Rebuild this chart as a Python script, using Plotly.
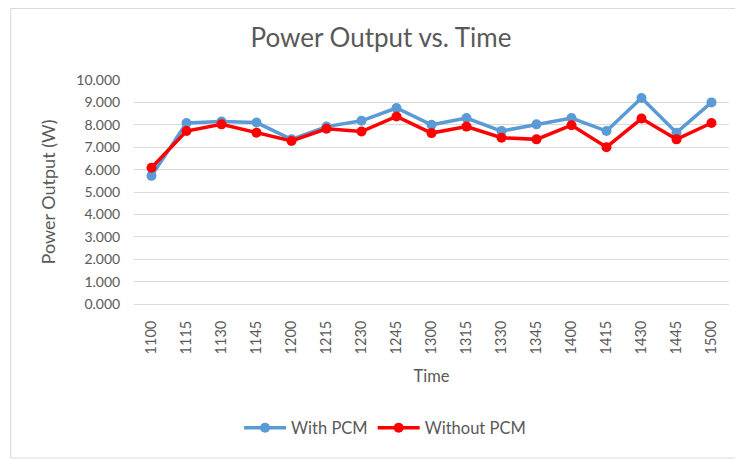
import plotly.graph_objects as go

times = ["1100", "1115", "1130", "1145", "1200", "1215", "1230", "1245", "1300",
         "1315", "1330", "1345", "1400", "1415", "1430", "1445", "1500"]
with_pcm = [5.72, 8.08, 8.15, 8.10, 7.35, 7.92, 8.18, 8.75, 8.00,
            8.30, 7.72, 8.02, 8.30, 7.72, 9.20, 7.65, 9.00]
without_pcm = [6.08, 7.72, 8.02, 7.65, 7.28, 7.82, 7.70, 8.37, 7.63,
               7.92, 7.42, 7.35, 7.98, 7.00, 8.28, 7.35, 8.08]
y_ticks = [0, 1, 2, 3, 4, 5, 6, 7, 8, 9, 10]

FONT = "Lato, Open Sans, sans-serif"
GREY = "#595959"

W, H = 735, 452
L, T, R, B = 125.5, 72, 13.5, 156
PW, PH = W - L - R, H - T - B

fig = go.Figure()
fig.add_trace(go.Scatter(x=times, y=with_pcm, name="With PCM", mode="lines+markers",
                         line=dict(color="#5B9BD5", width=3.5),
                         marker=dict(color="#5B9BD5", size=10)))
fig.add_trace(go.Scatter(x=times, y=without_pcm, name="Without PCM", mode="lines+markers",
                         line=dict(color="#FF0000", width=3.5),
                         marker=dict(color="#FF0000", size=10)))

fig.update_layout(
    width=W, height=H,
    margin=dict(l=L, r=R, t=T, b=B, autoexpand=False),
    paper_bgcolor="white", plot_bgcolor="white",
    font=dict(family=FONT, color=GREY, size=14),
    title=dict(text="Power Output vs. Time", x=373 / W, xanchor="center",
               y=1 - 30 / H, yanchor="middle",
               font=dict(size=26, color=GREY, family=FONT)),
    xaxis=dict(type="category", range=[-0.5, len(times) - 0.5], tickangle=-90, showgrid=False,
               showline=True, linecolor="#D9D9D9", linewidth=1,
               ticks="outside", ticklen=10, tickcolor="rgba(0,0,0,0)",
               tickfont=dict(size=14.5, color=GREY), automargin=False,
               title=dict(text="Time", font=dict(size=16.5, color=GREY), standoff=17)),
    yaxis=dict(range=[0, 10], tickvals=y_ticks, tickformat=".3f",
               showgrid=True, gridcolor="#D9D9D9", gridwidth=1,
               zeroline=False, showline=False, ticks="outside", ticklen=10,
               tickcolor="rgba(0,0,0,0)", automargin=False,
               tickfont=dict(size=14, color=GREY),
               title=dict(text="Power Output (W)", font=dict(size=18, color=GREY), standoff=15)),
    legend=dict(orientation="h", x=(377 - L) / PW, xanchor="center",
                y=(PH + T - 420) / PH, yanchor="middle",
                font=dict(size=16.5, color=GREY), itemwidth=42),
    showlegend=True,
)
fig.add_shape(type="rect", xref="paper", yref="paper",
              x0=(2 - L) / PW, x1=(732 - L) / PW,
              y0=(PH + T - 450) / PH, y1=(PH + T - 0.5) / PH,
              line=dict(color="#D9D9D9", width=1), fillcolor="rgba(0,0,0,0)", layer="below")

fig.write_html("out.html")
